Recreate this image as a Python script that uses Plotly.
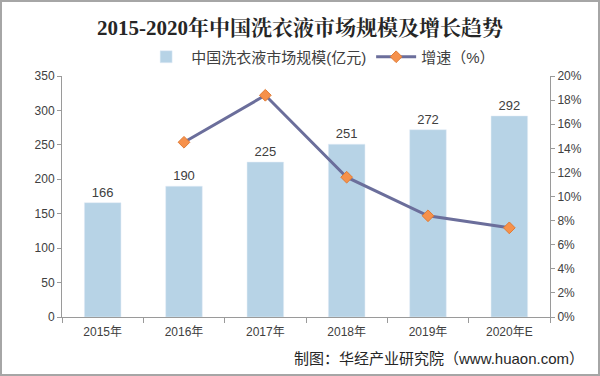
import plotly.graph_objects as go

years = ["2015年", "2016年", "2017年", "2018年", "2019年", "2020年E"]
market_size = [166, 190, 225, 251, 272, 292]
growth_pct = [None, 14.5, 18.4, 11.6, 8.4, 7.4]

W, H = 600, 376
L, R, T, B = 62, 50, 76, 59
pw, ph = W - L - R, H - T - B

def px(x):
    return (x - L) / pw

def py(y):
    return (H - B - y) / ph

font_cjk = "Arial, Liberation Sans, Noto Sans CJK SC"

fig = go.Figure()
fig.add_trace(go.Bar(
    x=years, y=market_size, name="中国洗衣液市场规模(亿元)",
    marker=dict(color="#b7d3e6"),
    text=market_size, textposition="outside",
    textfont=dict(size=13, color="#404040", family=font_cjk),
    cliponaxis=False,
))
fig.add_trace(go.Scatter(
    x=years, y=growth_pct, name="增速（%）", yaxis="y2",
    mode="lines+markers",
    line=dict(color="#6b6e9b", width=3),
    marker=dict(symbol="diamond", size=9, color="#f6914b",
                line=dict(color="#e07b35", width=1)),
))

fig.update_layout(
    width=W, height=H,
    margin=dict(l=L, r=R, t=T, b=B),
    paper_bgcolor="white", plot_bgcolor="white",
    bargap=0.55,
    showlegend=True,
    title=dict(text="<b>2015-2020年中国洗衣液市场规模及增长趋势</b>",
               x=0.5, xanchor="center", y=1 - 28 / H, yanchor="middle",
               font=dict(size=21, color="#262626",
                         family="Liberation Serif, Noto Serif CJK SC, Noto Sans CJK SC")),
    legend=dict(orientation="h", x=0.53, xanchor="center", y=py(57), yanchor="middle",
                font=dict(size=15, color="#404040", family=font_cjk),
                itemwidth=40, tracegroupgap=0, bgcolor="rgba(0,0,0,0)"),
    xaxis=dict(
        showline=True, linecolor="#9a9a9a", linewidth=1,
        ticks="outside", tickcolor="#9a9a9a", ticklen=5, tickson="boundaries",
        ticklabelstandoff=4,
        tickfont=dict(size=12, color="#404040", family=font_cjk),
        showgrid=False, zeroline=False,
    ),
    yaxis=dict(
        range=[0, 350], dtick=50,
        showline=True, linecolor="#9a9a9a", linewidth=1,
        ticks="outside", tickcolor="#9a9a9a", ticklen=4,
        tickfont=dict(size=12, color="#404040", family=font_cjk),
        showgrid=False, zeroline=False,
    ),
    yaxis2=dict(
        range=[0, 20], dtick=2, overlaying="y", side="right",
        ticksuffix="%",
        showline=True, linecolor="#9a9a9a", linewidth=1,
        ticks="outside", tickcolor="#9a9a9a", ticklen=4,
        tickfont=dict(size=12, color="#404040", family=font_cjk),
        showgrid=False, zeroline=False,
    ),
    shapes=[dict(type="rect", xref="paper", yref="paper",
                 x0=px(1), x1=px(599), y0=py(1), y1=py(375),
                 line=dict(color="#a6a6a6", width=2), fillcolor="rgba(0,0,0,0)",
                 layer="above")],
    annotations=[dict(text="制图：华经产业研究院（www.huaon.com）",
                      xref="paper", yref="paper", x=px(586), y=py(358),
                      xanchor="right", yanchor="middle", showarrow=False,
                      font=dict(size=15, color="#262626", family=font_cjk))],
)

fig.write_html("out.html", config={"displayModeBar": False})

with open("out.html", "r", encoding="utf-8") as f:
    html = f.read()
html = html.replace("<body>", '<body style="margin:0;padding:0;overflow:hidden">', 1)
with open("out.html", "w", encoding="utf-8") as f:
    f.write(html)
